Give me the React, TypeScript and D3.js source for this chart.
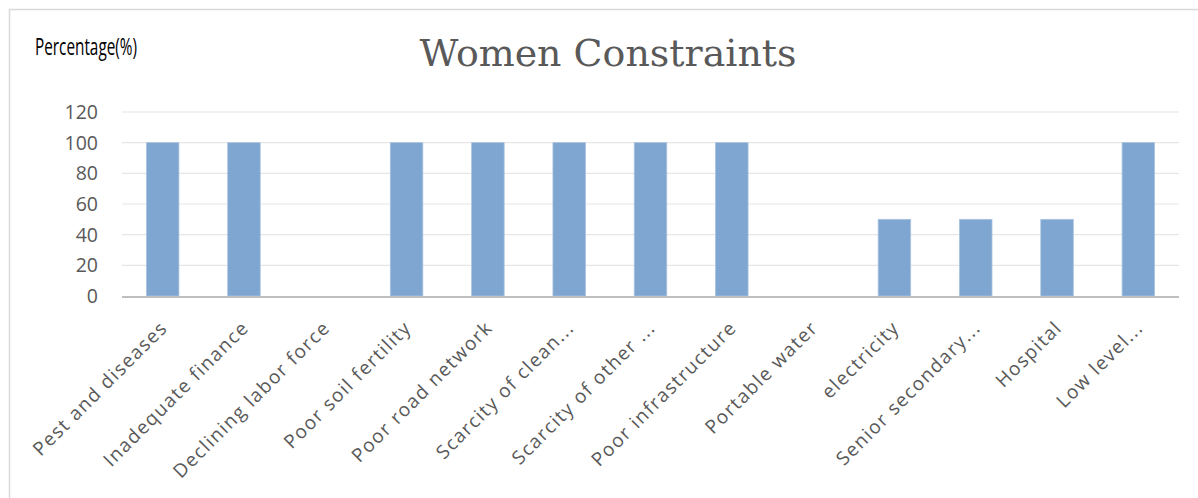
import React, { useRef, useEffect } from 'react';
import * as d3 from 'd3';

// chart data
const categories = [
  'Pest and diseases',
  'Inadequate finance',
  'Declining labor force',
  'Poor soil fertility',
  'Poor road network',
  'Scarcity of clean...',
  'Scarcity of other ...',
  'Poor infrastructure',
  'Portable water',
  'electricity',
  'Senior secondary...',
  'Hospital',
  'Low level...',
];
const values = [100, 100, 0, 100, 100, 100, 100, 100, 0, 50, 50, 50, 100];
const yTicks = [0, 20, 40, 60, 80, 100, 120];

const WomenChart = () => {
  const svgRef = useRef<SVGSVGElement>(null);

  useEffect(() => {
    if (!svgRef.current) return;
    const svg = d3.select(svgRef.current);
    svg.selectAll('*').remove();

    const W = 1198, H = 498;
    const plot = { left: 122, right: 1179, top: 112, bottom: 296 };

    // frame
    svg.append('rect')
      .attr('x', 9.5).attr('y', 9.5)
      .attr('width', W + 20).attr('height', H + 20)
      .attr('fill', '#fff')
      .attr('stroke', '#d9d9d9')
      .attr('stroke-width', 1.5);

    const x = d3.scaleBand<string>()
      .domain(categories)
      .range([plot.left, plot.right])
      .padding(0);

    const y = d3.scaleLinear()
      .domain([0, 120])
      .range([plot.bottom, plot.top]);

    // gridlines
    svg.append('g')
      .selectAll('line')
      .data(yTicks.filter(t => t > 0))
      .enter().append('line')
      .attr('x1', plot.left).attr('x2', plot.right)
      .attr('y1', d => y(d)).attr('y2', d => y(d))
      .attr('stroke', '#e6e6e6')
      .attr('stroke-width', 1.2);

    // y tick labels
    svg.append('g')
      .selectAll('text')
      .data(yTicks)
      .enter().append('text')
      .attr('x', 98)
      .attr('y', d => y(d))
      .attr('dy', '0.36em')
      .attr('text-anchor', 'end')
      .style('font-family', '"Open Sans", sans-serif')
      .style('font-size', '19.5px')
      .style('fill', '#595959')
      .text(d => d);

    // bars
    const barW = x.bandwidth() * 0.4;
    svg.append('g')
      .selectAll('rect')
      .data(values)
      .enter().append('rect')
      .attr('x', (d, i) => (x(categories[i]) || 0) + (x.bandwidth() - barW) / 2)
      .attr('width', barW)
      .attr('y', d => y(d))
      .attr('height', d => plot.bottom - y(d))
      .attr('fill', '#7fa6d0')
      .attr('stroke', '#a9c3e0')
      .attr('stroke-width', 0.8);

    // baseline axis
    svg.append('line')
      .attr('x1', plot.left).attr('x2', plot.right)
      .attr('y1', plot.bottom + 1).attr('y2', plot.bottom + 1)
      .attr('stroke', '#bfbfbf')
      .attr('stroke-width', 2.2);

    // x labels
    svg.append('g')
      .selectAll('text')
      .data(categories)
      .enter().append('text')
      .attr('transform', d => `translate(${(x(d) || 0) + x.bandwidth() / 2 + 6},${plot.bottom + 33}) rotate(-45)`)
      .attr('text-anchor', 'end')
      .style('font-family', '"Open Sans", sans-serif')
      .style('font-size', '19px')
      .style('letter-spacing', '1.4px')
      .style('fill', '#595959')
      .text(d => d);

    // title
    svg.append('text')
      .attr('x', 608)
      .attr('y', 66)
      .attr('text-anchor', 'middle')
      .attr('textLength', 377)
      .attr('lengthAdjust', 'spacingAndGlyphs')
      .style('font-family', '"DejaVu Serif", serif')
      .style('font-size', '37px')
      .style('fill', '#595959')
      .text('Women Constraints');

    // y axis caption
    svg.append('text')
      .attr('x', 35)
      .attr('y', 55)
      .attr('textLength', 102)
      .attr('lengthAdjust', 'spacingAndGlyphs')
      .style('font-family', '"Open Sans", sans-serif')
      .style('font-size', '24px')
      .style('fill', '#000')
      .text('Percentage(%)');
  }, []);

  return (
    <svg
      ref={svgRef}
      width={1198}
      height={498}
      style={{ position: 'fixed', top: 0, left: 0, background: '#fff' }}
    />
  );
};

export default function App() {
  return <WomenChart />;
}
